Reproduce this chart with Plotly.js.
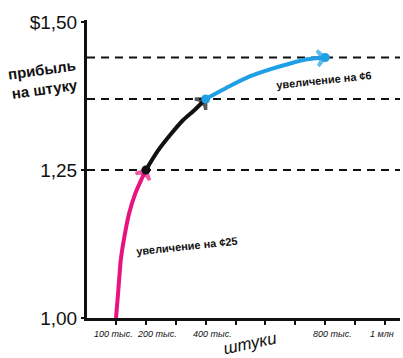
<!DOCTYPE html>
<html>
<head>
<meta charset="utf-8">
<script src="https://cdn.plot.ly/plotly-3.0.1.min.js"></script>
<style>html,body{margin:0;padding:0;background:#fff;}#chart{width:403px;height:358px;}</style>
</head>
<body>
<div id="chart"></div>
<script>
// Data
const pinkX = [100000, 107000, 116000, 128000, 144000, 165000, 184000, 200000];
const pinkY = [1.00, 1.042, 1.098, 1.137, 1.177, 1.211, 1.233, 1.25];
const blackX = [200000, 238000, 281000, 324000, 362000, 400000];
const blackY = [1.25, 1.281, 1.309, 1.334, 1.351, 1.37];
const blueX = [400000, 478000, 547000, 615000, 683000, 740000, 800000];
const blueY = [1.37, 1.391, 1.408, 1.420, 1.430, 1.437, 1.44];
const levels = [1.25, 1.37, 1.44];
const xTickVals = [100000, 200000, 300000, 400000, 500000, 600000, 700000, 800000, 900000, 1000000];
const xLabelVals = [100000, 200000, 400000, 800000, 1000000];
const xLabelText = ['100 тыс.', '200 тыс.', '400 тыс.', '800 тыс.', '1 млн'];
const yTickVals = [1.00, 1.25, 1.50];
const yTickText = ['1,00', '1,25', '$1,50'];
const note25 = 'увеличение на ¢25';
const note6 = 'увеличение на ¢6';

// label offsets in pixels (style only)
const xLabelShift = [-3, 11, 7, 7, -3];

const PINK = '#e8137f', BLUE = '#1f9fe4', BLACK = '#111111';
const HAND = '"Liberation Sans", Arial, sans-serif';

function arrowTrace(xs, ys, color) {
  const n = xs.length;
  return {
    x: xs, y: ys, type: 'scatter', mode: 'lines+markers',
    line: {color: color, width: 4, shape: 'spline', smoothing: 0.5, backoff: 0},
    marker: {
      symbol: xs.map((_, i) => i === n - 1 ? 'arrow-wide-open' : 'circle'),
      size: xs.map((_, i) => i === n - 1 ? 11 : 0),
      color: color, angleref: 'previous',
      line: {width: 3.5, color: color}
    },
    hoverinfo: 'skip', showlegend: false, cliponaxis: false
  };
}

const dots = {
  x: [blackX[0], blueX[0], blueX[blueX.length - 1]],
  y: [blackY[0], blueY[0], blueY[blueY.length - 1]],
  type: 'scatter', mode: 'markers',
  marker: {size: 9, color: [BLACK, BLUE, BLUE]},
  hoverinfo: 'skip', showlegend: false, cliponaxis: false
};

const shapes = levels.map(v => ({
  type: 'line', xref: 'paper', yref: 'y', x0: 0, x1: 1, y0: v, y1: v,
  line: {color: BLACK, width: 2, dash: '8px,6px'}, layer: 'below'
}));

const labelAnns = xLabelVals.map((v, i) => ({
  xref: 'x', yref: 'paper', x: v, y: 0, yshift: -16, xshift: xLabelShift[i],
  xanchor: 'center', yanchor: 'middle', showarrow: false, text: xLabelText[i],
  font: {family: HAND, size: 9, color: BLACK, style: 'italic'}
}));

const layout = {
  width: 403, height: 358,
  margin: {l: 87, r: 3, t: 20, b: 40},
  paper_bgcolor: '#fff', plot_bgcolor: '#fff',
  showlegend: false,
  xaxis: {
    range: [3000, 1050000], showgrid: false, zeroline: false,
    showline: true, linecolor: BLACK, linewidth: 3,
    tickmode: 'array', tickvals: xTickVals, ticktext: xTickVals.map(() => ''),
    ticks: 'outside', ticklen: 4, tickwidth: 2, tickcolor: BLACK,
    fixedrange: true
  },
  yaxis: {
    range: [1.0, 1.5034], showgrid: false, zeroline: false,
    showline: true, linecolor: BLACK, linewidth: 3,
    tickmode: 'array', tickvals: yTickVals, ticktext: yTickText,
    ticks: 'outside', ticklen: 3, tickwidth: 2, tickcolor: BLACK,
    tickfont: {family: HAND, size: 19, color: BLACK},
    fixedrange: true
  },
  shapes: shapes,
  annotations: labelAnns.concat([
    {xref: 'paper', yref: 'paper', x: -0.14, y: 0.8, xanchor: 'center', yanchor: 'middle',
     text: 'прибыль<br>на штуку', showarrow: false, textangle: -8,
     font: {family: HAND, size: 15, color: BLACK, weight: 'bold'}},
    {xref: 'paper', yref: 'paper', x: 0.52, y: -0.085, xanchor: 'center', yanchor: 'middle',
     text: 'штуки', showarrow: false, textangle: -12,
     font: {family: HAND, size: 17, color: BLACK, style: 'italic'}},
    {xref: 'paper', yref: 'paper', x: 0.32, y: 0.24, xanchor: 'center', yanchor: 'middle',
     text: note25, showarrow: false, textangle: -6,
     font: {family: HAND, size: 11, color: BLACK, weight: 'bold'}},
    {xref: 'paper', yref: 'paper', x: 0.758, y: 0.8, xanchor: 'center', yanchor: 'middle',
     text: note6, showarrow: false, textangle: -6,
     font: {family: HAND, size: 11, color: BLACK, weight: 'bold'}}
  ])
};

Plotly.newPlot('chart', [arrowTrace(pinkX, pinkY, PINK), arrowTrace(blackX, blackY, BLACK), arrowTrace(blueX, blueY, BLUE), dots], layout, {staticPlot: true});
</script>
</body>
</html>
